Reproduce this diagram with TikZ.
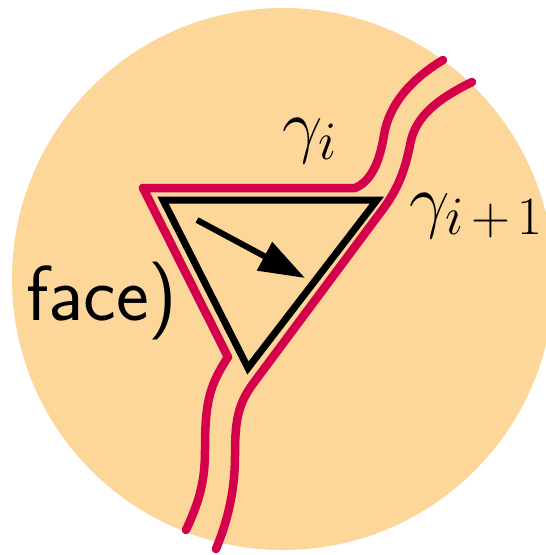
\RequirePackage{fix-cm}
\documentclass[tikz,border=0pt]{standalone}
\usetikzlibrary{arrows.meta}
\DeclareMathSizes{72}{72}{54}{43}
\definecolor{diskfill}{RGB}{253,214,153}
\definecolor{curvered}{RGB}{213,0,75}
\begin{document}
\begin{tikzpicture}[x=1pt,y=-1pt,
  curve/.style={draw=curvered,line width=8.5pt,line cap=round,line join=round},
  tri/.style={draw=black,line width=7pt},
  lab/.style={inner sep=0pt,font=\fontsize{72}{86}\selectfont},
]
\useasboundingbox (0,0) rectangle (546,555);
\fill[diskfill] (283,279) circle[radius=271pt];
\draw[curve] (186,530) .. controls (200,500) and (205,480) .. (205,450) .. controls (205,400) and (210,385) .. (228,357) -- (143,188) -- (355,188) .. controls (372,181) and (380,160) .. (384,135) .. controls (389,105) and (410,80) .. (443,60);
\draw[curve] (216,549) .. controls (228,520) and (235,490) .. (235,455) .. controls (235,420) and (238,403) .. (255,381) -- (380,213) .. controls (398,190) and (405,170) .. (410,145) .. controls (415,115) and (440,98) .. (472,82);
\draw[tri] (163,200) -- (377,200) -- (248,368) -- cycle;
\coordinate (arrowtail) at (197,220);
\coordinate (arrowhead) at (305,278);
\draw[line width=6pt,-{Triangle[length=46pt,width=31pt]}] (arrowtail) -- (arrowhead);
\node[lab,anchor=base west] (gi) at (282,149) {$\gamma_i$};
\node[lab,anchor=base west] (gi1) at (409,224) {$\gamma_{i\mkern2.5mu+\mkern2.5mu1}$};
\node[lab,anchor=base west,font=\fontsize{78}{92}\selectfont] (face) at (26,320) {\sffamily face)};
\end{tikzpicture}
\end{document}
